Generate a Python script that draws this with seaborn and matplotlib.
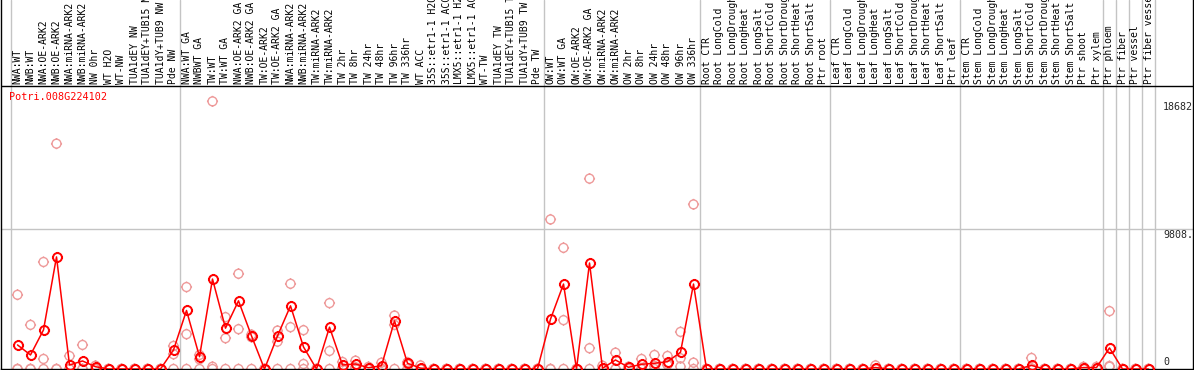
import numpy as np
import pandas as pd
import matplotlib
matplotlib.use("Agg")
import matplotlib.pyplot as plt
import seaborn as sns
from matplotlib.path import Path

# %%
gene_id = "Potri.008G224102"

samples = [
    "NWA:WT", "NWB:WT", "NWA:OE-ARK2", "NWB:OE-ARK2", "NWA:miRNA-ARK2", "NWB:miRNA-ARK2",
    "NW 0hr", "WT H2O", "WT-NW", "TUA1dEY NW", "TUA1dEY+TUB15 NW", "TUA1dY+TUB9 NW", "Pde NW",
    "NWA:WT GA", "NWBWT GA", "TW:WT", "TW:WT GA", "NWA:OE-ARK2 GA", "NWB:OE-ARK2 GA",
    "TW:OE-ARK2", "TW:OE-ARK2 GA", "NWA:miRNA-ARK2", "NWB:miRNA-ARK2", "TW:miRNA-ARK2",
    "TW:miRNA-ARK2", "TW 2hr", "TW 8hr", "TW 24hr", "TW 48hr", "TW 96hr", "TW 336hr",
    "WT ACC", "35S::etr1-1 H2O", "35S::etr1-1 ACC", "LMX5::etr1-1 H2O", "LMX5::etr1-1 ACC",
    "WT-TW", "TUA1dEY TW", "TUA1dEY+TUB15 TW", "TUA1dY+TUB9 TW", "Pde TW",
    "OW:WT", "OW:WT GA", "OW:OE-ARK2", "OW:OE-ARK2 GA", "OW:miRNA-ARK2", "OW:miRNA-ARK2",
    "OW 2hr", "OW 8hr", "OW 24hr", "OW 48hr", "OW 96hr", "OW 336hr",
    "Root CTR", "Root LongCold", "Root LongDrought", "Root LongHeat", "Root LongSalt",
    "Root ShortCold", "Root ShortDrought", "Root ShortHeat", "Root ShortSalt", "Ptr root",
    "Leaf CTR", "Leaf LongCold", "Leaf LongDrought", "Leaf LongHeat", "Leaf LongSalt",
    "Leaf ShortCold", "Leaf ShortDrought", "Leaf ShortHeat", "Leaf ShortSalt", "Ptr leaf",
    "Stem CTR", "Stem LongCold", "Stem LongDrought", "Stem LongHeat", "Stem LongSalt",
    "Stem ShortCold", "Stem ShortDrought", "Stem ShortHeat", "Stem ShortSalt", "Ptr shoot",
    "Ptr xylem", "Ptr phloem", "Ptr fiber", "Ptr vessel", "Ptr fiber vessel",
]

# mean expression (red line)
mean_expr = (
    [1680, 980, 2730, 7825, 280, 560, 160, 0, 0, 0, 0, 0, 1330]
    + [4085, 860, 6280, 2850, 4760, 2310, 0, 2310, 4410, 1540, 0, 2920, 280, 350,
       90, 230, 3360, 400, 60, 0, 0, 0, 0, 0, 0, 0, 0, 0]
    + [3480, 5930, 0, 7400, 50, 630, 120, 330, 400, 510, 1170, 5930]
    + [0] * 10
    + [0, 0, 0, 100, 0, 0, 0, 0, 0, 0]
    + [0, 0, 0, 0, 0, 250, 0, 0, 0, 100, 100]
    + [1470, 0, 0, 0]
)

# replicates (pink circles)
rep_a = (
    [5180, 3080, 7470, 15730, 910, 1680, 230, 0, 0, 0, 0, 0, 1610]
    + [5720, 980, 18682, 3620, 6650, 2400, 0, 2680, 5950, 2710, 0, 4600, 490, 580,
       150, 440, 3730, 470, 250, 0, 0, 0, 0, 0, 0, 0, 0, 0]
    + [10440, 8460, 0, 13290, 230, 1140, 160, 700, 980, 910, 2590, 11490]
    + [0] * 10
    + [0, 0, 0, 250, 0, 0, 0, 0, 0, 0]
    + [0, 0, 0, 0, 0, 770, 0, 0, 0, 150, 150]
    + [4040, 0, 0, 0]
)
rep_b = (
    [0, 0, 700, 0, 0, 0, 0, 0, 0, 0, 0, 0, 1030]
    + [2430, 680, 0, 2150, 2780, 2220, 0, 1910, 2920, 350, 0, 1260, 70, 120,
       30, 20, 3080, 330, 0, 0, 0, 0, 0, 0, 0, 0, 0, 0]
    + [0, 3410, 0, 1450, 0, 0, 80, 0, 0, 280, 750, 440]
    + [0] * 10
    + [0] * 10
    + [0, 0, 0, 0, 0, 50, 0, 0, 0, 50, 50]
    + [160, 0, 0, 0]
)
rep_c = (
    [0] * 13
    + [0, 0, 160] + [0] * 25
    + [0, 0, 0, 0, 0, 0, 0, 0, 220, 340, 170, 0]
    + [0] * 10
    + [0] * 10
    + [0] * 11
    + [210, 0, 0, 0]
)

group_breaks = [-0.5, 12.5, 40.5, 52.5, 62.5, 72.5, 83.5, 84.5, 85.5, 86.5, 87.5]
scale_values = [18682, 9808, 0]
scale_texts = ["18682", "9808.", "0"]
scale_top = 19616

# %%
pos = np.arange(len(samples))
df_mean = pd.DataFrame({"pos": pos, "value": mean_expr})
df_reps = pd.DataFrame({
    "pos": np.concatenate([pos, pos, pos]),
    "value": rep_a + rep_b + rep_c,
})

# circle with four small ticks
circle = Path.unit_circle()
ticks = Path(
    [(0, 1), (0, 1.25), (0, -1), (0, -1.25), (1, 0), (1.25, 0), (-1, 0), (-1.25, 0)],
    [Path.MOVETO, Path.LINETO] * 4,
)
ring = Path.make_compound_path(circle, ticks)

sns.set_style("white")
plt.rcParams["font.family"] = ["DejaVu Sans Mono"]

W, H = 1194, 370
fig = plt.figure(figsize=(W / 100, H / 100), dpi=100)
ax = fig.add_axes([1 / W, 1 / H, 1192 / W, 369 / H])

# pixel -> data helpers (plot area: 0 at px 369, scale_top at px 88)
per_px = scale_top / (369 - 88)
col_w = 13.0
ax.set_xlim((1 - 17.5) / col_w, (1193 - 17.5) / col_w)
ax.set_ylim(0, 369 * per_px)


def y_at(py):
    return (369 - py) * per_px


for b in group_breaks:
    ax.axvline(b, color="#c4c4c4", lw=1, zorder=1)
ax.axhline(9808, color="#c4c4c4", lw=1, zorder=1)
ax.axhline(y_at(86), color="black", lw=1, zorder=1)

sns.scatterplot(
    data=df_reps, x="pos", y="value", ax=ax, marker=ring, s=64,
    color="#ee9a9a", facecolor="none", edgecolor="#ee9a9a", linewidth=1,
    zorder=2, clip_on=False,
)
sns.lineplot(
    data=df_mean, x="pos", y="value", ax=ax, color="red", lw=1.1,
    marker=ring, markersize=8, markerfacecolor="none",
    markeredgecolor="red", markeredgewidth=1.4, zorder=3,
)

for i, name in enumerate(samples):
    ax.text(i, y_at(84), name, rotation=90, ha="center", va="bottom",
            fontsize=7.0, color="black")

ax.text((9 - 17.5) / col_w, y_at(97), gene_id, color="red", fontsize=7.3,
        ha="left", va="center")

for v, t in zip(scale_values, scale_texts):
    ax.text((1163 - 17.5) / col_w, v + (2 * per_px if v == 0 else -per_px), t,
            ha="left", va="bottom" if v == 0 else "top", fontsize=7.2)

ax.set_xlabel("")
ax.set_ylabel("")
ax.set_xticks([])
ax.set_yticks([])
for side in ["left", "right", "bottom"]:
    ax.spines[side].set_color("black")
    ax.spines[side].set_linewidth(1)
ax.spines["top"].set_visible(False)

fig.savefig("out.png", dpi=100)
